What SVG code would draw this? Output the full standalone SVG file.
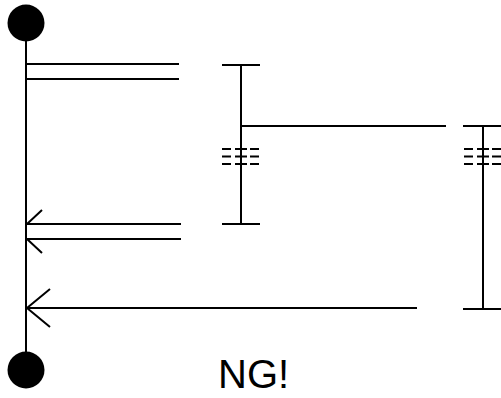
<svg xmlns="http://www.w3.org/2000/svg" width="501" height="398" viewBox="0 0 501 398">
  <style>
    .ln { stroke: #000; stroke-width: 2; fill: none; }
    .dot { fill: #000; }
    .lbl { font-family: "Liberation Sans", Arial, sans-serif; font-size: 40px; fill: #000; }
  </style>
  <rect width="501" height="398" fill="#fff"/>

  <!-- lifeline with start and end terminals -->
  <g id="lifeline">
    <line class="ln" x1="26" y1="40" x2="26" y2="352"/>
    <circle class="dot" cx="26" cy="23" r="18.5"/>
    <circle class="dot" cx="26" cy="370" r="18.5"/>
  </g>

  <!-- activation bar, left -->
  <g id="bar-left">
    <line class="ln" x1="241" y1="65" x2="241" y2="224"/>
    <line class="ln" x1="222" y1="65" x2="260" y2="65"/>
    <line class="ln" x1="222" y1="224" x2="260" y2="224"/>
    <g class="ln" stroke-width="1.6">
      <path d="M222 149h9M235 149h12M250 149h9M222 156.5h9M235 156.5h12M250 156.5h9M222 164h9M235 164h12M250 164h9"/>
    </g>
  </g>

  <!-- activation bar, right -->
  <g id="bar-right">
    <line class="ln" x1="483" y1="126" x2="483" y2="309"/>
    <line class="ln" x1="463" y1="126" x2="501" y2="126"/>
    <line class="ln" x1="463" y1="309" x2="501" y2="309"/>
    <g class="ln" stroke-width="1.6">
      <path d="M464 149h9M477 149h12M492 149h9M464 156.5h9M477 156.5h12M492 156.5h9M464 164h9M477 164h12M492 164h9"/>
    </g>
  </g>

  <!-- connectors -->
  <g id="connectors">
    <line class="ln" x1="26" y1="64" x2="179" y2="64"/>
    <line class="ln" x1="26" y1="79" x2="179" y2="79"/>
    <line class="ln" x1="241" y1="126" x2="446" y2="126"/>
    <line class="ln" x1="26" y1="224" x2="181" y2="224"/>
    <line class="ln" x1="26" y1="239" x2="181" y2="239"/>
    <path class="ln" d="M42 210L27 224M27 239L42 253"/>
    <line class="ln" x1="26" y1="308" x2="417" y2="308"/>
    <path class="ln" d="M50 289L27 308L50 327"/>
  </g>

  <text class="lbl" x="218" y="388">NG!</text>
</svg>
